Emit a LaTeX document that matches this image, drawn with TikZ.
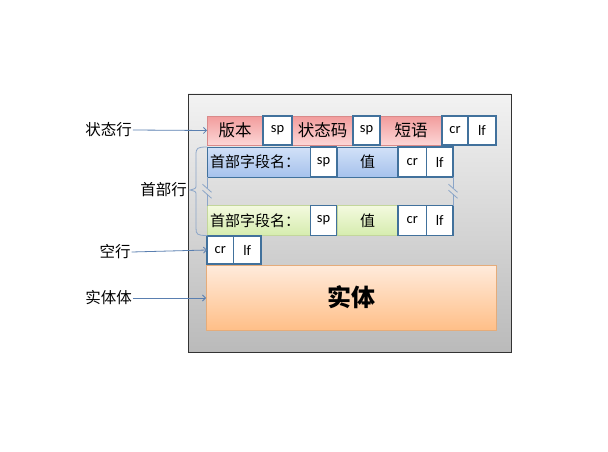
\documentclass[tikz,border=0pt]{standalone}
\usepackage{fontspec}
\setmainfont{Carlito}
\newfontfamily\zh{Noto Sans CJK SC}
\usetikzlibrary{positioning,arrows.meta}
\definecolor{edgec}{HTML}{41719C}
\definecolor{linkc}{HTML}{5A7FB0}
\definecolor{redtop}{HTML}{F29C9C}
\definecolor{redbot}{HTML}{FCD6D6}
\definecolor{redline}{HTML}{D98A8A}
\definecolor{bluetop}{HTML}{D2E1F8}
\definecolor{bluebot}{HTML}{A6C2EC}
\definecolor{greentop}{HTML}{F3FADF}
\definecolor{greenbot}{HTML}{D6ECAE}
\definecolor{greenline}{HTML}{C3D69B}
\definecolor{orangetop}{HTML}{FFEBDC}
\definecolor{orangebot}{HTML}{FFBF88}
\tikzstyle{frame} = [draw=black!80, line width=0.8pt, top color=black!5, bottom color=black!27]
\tikzstyle{cell} = [
  draw=edgec, line width=1.5pt, fill=white,
  minimum height=29pt, inner sep=0pt, outer sep=0pt,
  font=\fontsize{14.5}{16}\selectfont,
]
\tikzstyle{redcell} = [cell, draw=redline, line width=0.8pt, top color=redtop, bottom color=redbot, font=\zh\fontsize{16.5}{18}\selectfont]
\tikzstyle{bluecell} = [cell, draw=edgec, line width=0.8pt, top color=bluetop, bottom color=bluebot, minimum height=30pt, font=\zh\fontsize{15}{17}\selectfont]
\tikzstyle{greencell} = [cell, draw=greenline, line width=0.8pt, top color=greentop, bottom color=greenbot, minimum height=30pt, font=\zh\fontsize{15}{17}\selectfont]
\tikzstyle{side} = [font=\zh\fontsize{15.5}{17}\selectfont, inner sep=0pt]
\tikzstyle{lnk} = [draw=linkc, line width=0.8pt, -{Straight Barb[length=3pt,width=6pt]}]
\tikzstyle{brk} = [draw=linkc!70, line width=0.8pt]

\begin{document}
\begin{tikzpicture}[x=1pt,y=1pt]
  \useasboundingbox (0,0) rectangle (608,-452);

  % Frame
  \draw[frame] (188,-94) rectangle (511,-352);

  % Status line
  \node[redcell, minimum width=56pt, anchor=north west] (ver) at (207,-116) {版本};
  \node[redcell, minimum width=61pt, anchor=north west] (code) at (292,-116) {状态码};
  \node[redcell, minimum width=62pt, anchor=north west] (phrase) at (380,-116) {短语};
  \node[cell, minimum width=29pt, right=0pt of ver] (sp1) {sp};
  \node[cell, minimum width=27pt, right=0pt of code] (sp2) {sp};
  \node[cell, minimum width=26pt, right=0pt of phrase] (cr1) {cr};
  \node[cell, minimum width=28pt, right=0pt of cr1] (lf1) {lf};

  % Header lines
  \node[bluecell, text width=97.5pt, inner xsep=3pt, align=left, anchor=north west] (hname) at (207,-147) {首部字段名：};
  \node[bluecell, minimum width=61pt, anchor=north west] (hval) at (337,-147) {值};
  \node[cell, minimum width=26pt, minimum height=30pt, right=0pt of hname] (hsp) {sp};
  \node[cell, minimum width=28.5pt, minimum height=30pt, right=0pt of hval] (hcr) {cr};
  \node[cell, minimum width=26.5pt, minimum height=30pt, right=0pt of hcr] (hlf) {lf};

  \node[greencell, text width=97.5pt, inner xsep=3pt, align=left, anchor=north west] (gname) at (207,-205.5) {首部字段名：};
  \node[greencell, minimum width=61pt, anchor=north west] (gval) at (337,-205.5) {值};
  \node[cell, minimum width=26pt, minimum height=30pt, right=0pt of gname] (gsp) {sp};
  \node[cell, minimum width=28.5pt, minimum height=30pt, right=0pt of gval] (gcr) {cr};
  \node[cell, minimum width=26.5pt, minimum height=30pt, right=0pt of gcr] (glf) {lf};

  % Breaks
  \path (hname.south west) -- (gname.north west) coordinate[pos=0.5] (lbrk);
  \path (hlf.south east) -- (glf.north east) coordinate[pos=0.5] (rbrk);
  \draw[brk] (hname.south west) -- ([yshift=3pt]lbrk);
  \draw[brk] ([yshift=-3pt]lbrk) -- (gname.north west);
  \draw[brk] ([shift={(-4.5,7)}]lbrk) -- ([shift={(4.5,-1)}]lbrk);
  \draw[brk] ([shift={(-4.5,1)}]lbrk) -- ([shift={(4.5,-7)}]lbrk);
  \draw[brk] (hlf.south east) -- ([yshift=3pt]rbrk);
  \draw[brk] ([yshift=-3pt]rbrk) -- (glf.north east);
  \draw[brk] ([shift={(-4.5,7)}]rbrk) -- ([shift={(4.5,-1)}]rbrk);
  \draw[brk] ([shift={(-4.5,1)}]rbrk) -- ([shift={(4.5,-7)}]rbrk);

  % Empty line and body
  \node[cell, minimum width=26.5pt, minimum height=28pt, anchor=north west] (ecr) at (207,-236) {cr};
  \node[cell, minimum width=27.5pt, minimum height=28pt, right=0pt of ecr] (elf) {lf};
  \node[cell, draw=orangebot!90!black, line width=0.8pt, top color=orangetop, bottom color=orangebot,
        minimum width=290pt, minimum height=65pt, anchor=north west,
        font=\zh\bfseries\fontsize{24}{26}\selectfont] (body) at (206,-265) {实体};

  % Labels
  \node[side] (lstatus) at (108.5,-130) {状态行};
  \node[side, anchor=east] (lhead) at (187,-190) {首部行};
  \node[side] (lempty) at (115,-252) {空行};
  \node[side] (lbody) at (108.5,-298) {实体体};
  \coordinate (tip) at (190,-190);

  \draw[lnk] ([xshift=1pt]lstatus.east) -- (ver.west);
  \draw[lnk] ([xshift=1pt]lempty.east) -- (ecr.west);
  \draw[lnk] ([xshift=1pt]lbody.east) -- ([yshift=-0.5pt]body.west);
  \draw[brk] ([xshift=0.4pt]hname.north west) .. controls (197,-147) and (196,-148) .. (196,-155)
    -- (196,-185) .. controls (196,-188.5) .. (tip)
    .. controls (196,-191.5) .. (196,-195) -- (196,-228)
    .. controls (196,-234.5) and (197,-235.5) .. ([xshift=0.4pt]gname.south west);
\end{tikzpicture}
\end{document}
